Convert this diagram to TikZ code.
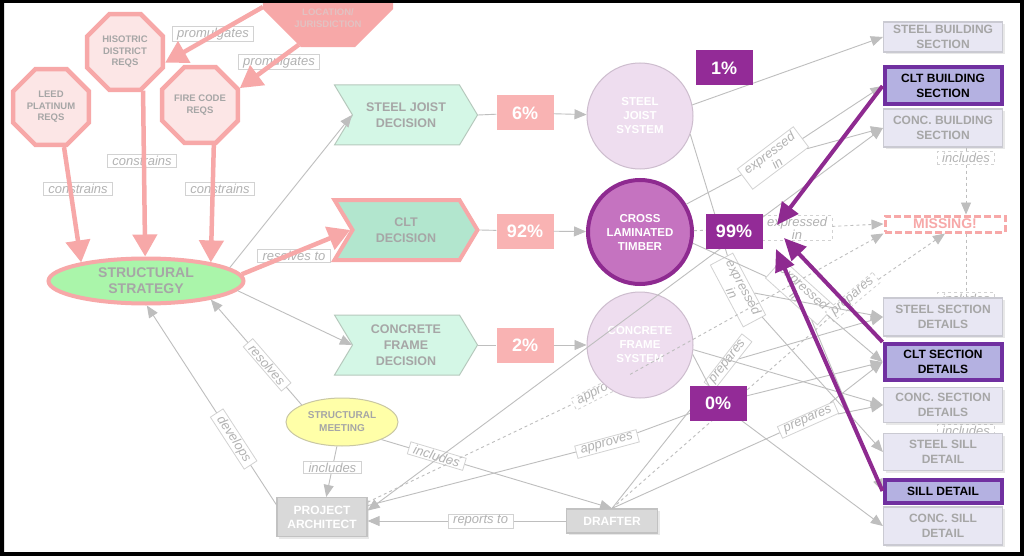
\documentclass[tikz,border=0pt]{standalone}
\usepackage{fontspec}
\setmainfont{Liberation Sans}
\usetikzlibrary{arrows.meta,shapes.geometric,shapes.symbols,shadows}

\definecolor{reqpink}{HTML}{F7A8A8}
\definecolor{reqfill}{HTML}{FCE6E6}
\definecolor{loctext}{HTML}{E2C2C2}
\definecolor{txtgray}{HTML}{A6A6A6}
\definecolor{lbltext}{HTML}{B2B2B2}
\definecolor{lblline}{HTML}{D2D2D2}
\definecolor{linegray}{HTML}{BEBEBE}
\definecolor{stratgreen}{HTML}{AAF5AA}
\definecolor{decfill}{HTML}{D4F7E6}
\definecolor{decline}{HTML}{B6C9BD}
\definecolor{cltfill}{HTML}{B2E6CE}
\definecolor{pctpink}{HTML}{F9B3B3}
\definecolor{sysfill}{HTML}{EEDDEF}
\definecolor{sysline}{HTML}{CDBDCE}
\definecolor{cltpurple}{HTML}{C573C0}
\definecolor{deeppurple}{HTML}{8E2A90}
\definecolor{pctpurple}{HTML}{932B97}
\definecolor{docfill}{HTML}{E8E7F3}
\definecolor{docline}{HTML}{CACAD2}
\definecolor{selfill}{HTML}{B4B1E1}
\definecolor{selline}{HTML}{7030A0}
\definecolor{rolefill}{HTML}{D9D9D9}
\definecolor{roleline}{HTML}{C2C2C2}
\definecolor{meetfill}{HTML}{FFFFA8}
\definecolor{meetline}{HTML}{C9C7A3}

\tikzset{
  req/.style={regular polygon, regular polygon sides=8, draw=reqpink, line width=4.5pt,
    fill=reqfill, minimum size=82pt, inner sep=0pt, align=center, text=txtgray,
    font=\bfseries\fontsize{9.5}{11.5}\selectfont},
  link/.style={draw=lblline, fill=white, line width=0.8pt, inner xsep=5pt, inner ysep=1.5pt,
    align=center, text=lbltext, font=\itshape\fontsize{13}{13}\selectfont},
  linkdash/.style={link, dashed},
  redarrow/.style={draw=reqpink, line width=4.5pt, -{Triangle[length=22pt,width=24pt]}},
  gline/.style={draw=linegray, line width=0.9pt},
  garrow/.style={gline, -{Triangle[length=12pt,width=10pt]}},
  purplearrow/.style={draw=deeppurple, line width=4pt, -{Triangle[length=22pt,width=20pt]}},
  strategy/.style={ellipse, draw=reqpink, line width=4pt, fill=stratgreen, minimum width=195pt,
    minimum height=45pt, inner sep=0pt, align=center, text=txtgray,
    font=\bfseries\fontsize{14}{16}\selectfont},
  decision/.style={signal, signal to=east, signal from=west, signal pointer angle=118,
    draw=decline, line width=1pt, fill=decfill, minimum width=143pt, minimum height=60pt,
    inner sep=0pt, align=center, text=txtgray, font=\bfseries\fontsize{12.5}{16}\selectfont},
  pct/.style={fill=pctpink, minimum width=57pt, minimum height=35pt, inner sep=0pt,
    text=white, font=\bfseries\fontsize{18}{18}\selectfont},
  pctsel/.style={pct, fill=pctpurple},
  system/.style={circle, draw=sysline, line width=1pt, fill=sysfill, minimum size=106pt,
    inner sep=0pt, align=center, text=white, font=\bfseries\fontsize{11.5}{14}\selectfont},
  doc/.style={rectangle, draw=docline, line width=1.2pt, fill=docfill, minimum width=119pt,
    inner sep=0pt, align=center, text=txtgray, font=\bfseries\fontsize{12}{14.5}\selectfont,
    drop shadow={opacity=0.18, shadow xshift=2pt, shadow yshift=-2pt}},
  docsel/.style={doc, draw=selline, line width=4pt, fill=selfill, text=black, minimum width=117pt},
  role/.style={rectangle, draw=roleline, line width=1.2pt, fill=rolefill, text=white,
    inner sep=0pt, align=center, font=\bfseries\fontsize{12}{14}\selectfont,
    drop shadow={opacity=0.18, shadow xshift=2pt, shadow yshift=-2pt}},
  meeting/.style={ellipse, draw=meetline, line width=1pt, fill=meetfill, minimum width=112pt,
    minimum height=48pt, inner sep=0pt, align=center, text=txtgray,
    font=\bfseries\fontsize{10}{13}\selectfont},
  missing/.style={draw=reqpink, line width=3pt, dash pattern=on 7pt off 3pt, fill=white,
    minimum width=120pt, minimum height=16pt, inner sep=0pt, text=reqpink,
    font=\bfseries\fontsize{14}{14}\selectfont}
}

\begin{document}
\begin{tikzpicture}[x=1pt,y=-1pt]
\fill[black] (0,0) rectangle (1024,556);
\fill[white] (4,3) rectangle (1020,552);
\useasboundingbox (0,0) rectangle (1024,556);

% requirements
\node[req, fill=reqpink, minimum size=136pt] (loc) at (328,-18) {};
\node[text=loctext, align=center, font=\bfseries\fontsize{9.5}{12.5}\selectfont] (loctxt) at (328,18) {LOCATION/\\JURISDICTION};
\node[req] (hist) at (125,52) {HISOTRIC\\DISTRICT\\REQS};
\node[req] (leed) at (51,107) {LEED\\PLATINUM\\REQS};
\node[req] (fire) at (200,105) {FIRE CODE\\REQS};
\node[link] (prom1) at (213,34) {promulgates};
\node[link] (prom2) at (279,62) {promulgates};
\node[link] (con1) at (78,189) {constrains};
\node[link] (con2) at (142,161) {constrains};
\node[link] (con3) at (220,189) {constrains};
\node[link] (res2) at (294,256) {resolves to};

\node[strategy] (ss) at (146,281) {STRUCTURAL\\STRATEGY};

% decisions
\node[decision] (sjd) at (406,115) {STEEL JOIST\\DECISION};
\node[decision, fill=cltfill, draw=reqpink, line width=4pt] (cltd) at (406,230) {CLT\\DECISION};
\node[decision] (cfd) at (406,345) {CONCRETE\\FRAME\\DECISION};
\node[pct] (p6) at (525,113) {6\%};
\node[pct] (p92) at (525,231) {92\%};
\node[pct] (p2) at (525,345) {2\%};

% systems
\node[linkdash, rotate=27] (app2) at (602,390) {approves};
\node[system] (sjs) at (640,116) {STEEL\\JOIST\\SYSTEM};
\node[system, fill=cltpurple, draw=deeppurple, line width=4pt, minimum size=104pt] (cltc) at (640,232) {CROSS\\LAMINATED\\TIMBER};
\node[system] (cfs) at (640,345) {CONCRETE\\FRAME\\SYSTEM};

% documents
\node[linkdash] (inc4) at (966,299) {includes};
\node[linkdash] (inc5) at (966,431) {includes};
\node[doc, minimum height=30pt] (stbs) at (943,37) {STEEL BUILDING\\SECTION};
\node[docsel, minimum height=37pt] (cltbs) at (943,86) {CLT BUILDING\\SECTION};
\node[doc, minimum height=38pt] (cbs) at (943,128) {CONC. BUILDING\\SECTION};
\node[missing] (miss) at (945,224) {MISSING!};
\node[doc, minimum height=38pt] (ssd) at (943,317) {STEEL SECTION\\DETAILS};
\node[docsel, minimum height=36pt] (cltsd) at (943,362) {CLT SECTION\\DETAILS};
\node[doc, minimum height=35pt] (csd) at (943,405) {CONC. SECTION\\DETAILS};
\node[doc, minimum height=37pt] (stsl) at (943,452) {STEEL SILL\\DETAIL};
\node[docsel, minimum height=23pt] (sill) at (943,491) {SILL DETAIL};
\node[doc, minimum height=38pt] (csl) at (943,526) {CONC. SILL\\DETAIL};

% people
\node[meeting] (sm) at (342,422) {STRUCTURAL\\MEETING};
\node[role, minimum width=90pt, minimum height=39pt] (pa) at (322,517) {PROJECT\\ARCHITECT};
\node[role, minimum width=91pt, minimum height=24pt] (dr) at (612,521) {DRAFTER};

% grey links
\draw[garrow] (ss.9) -- (sjd.west);
\draw[garrow] (ss.-6) -- (cfd.west);
\draw[gline] (sjd.east) -- (p6);
\draw[gline] (cltd.east) -- (p92);
\draw[gline] (cfd.east) -- (p2);
\draw[garrow] (p6) -- (sjs);
\draw[garrow] (p92) -- (cltc);
\draw[garrow] (p2) -- (cfs);
\draw[garrow] (sm.157) -- node[link, sloped, pos=0.38] (res) {resolves} (ss.-16);
\draw[garrow] (pa.165) -- node[link, sloped, pos=0.33] (dev) {develops} (ss.-88);
\draw[garrow] (sm) -- node[link, pos=0.42] (inc1) {includes} (pa);
\draw[garrow] (sm.-24) -- node[link, sloped, pos=0.24] (inc2) {includes} (dr.north);
\draw[garrow] (dr.west) -- node[link, pos=0.43] (rep) {reports to} (dr.west -| pa.east);

% expressed in / prepares / approves
\coordinate (hub0) at (718,403);
\node[link, rotate=37] (exp1) at (773,158) {expressed\\in};
\node[linkdash] (exp2) at (797,228) {expressed\\in};
\node[link, rotate=-62] (exp3) at (738,290) {expressed\\in};
\node[link, rotate=-42] (exp4) at (800,292) {expressed\\in};
\node[link, rotate=52] (prep1) at (728,362) {prepares};
\node[link, rotate=24] (prep2) at (808,420) {prepares};
\node[linkdash, rotate=40] (prep3) at (853,297) {prepares};
\node[link, rotate=15] (app1) at (607,444) {approves};
\draw[garrow] (sjs.12) -- (stbs.west);
\draw[gline] (sjs.-20) -- (exp3);
\draw[garrow] (exp3) -- (ssd.west);
\draw[garrow] (exp3) -- (stsl.west);
\draw[gline] (cltc.31) -- (exp1);
\draw[garrow] (exp1) -- (cltbs.west);
\draw[garrow] (exp1) -- (cbs.west);
\draw[gline, dashed] (cltc) -- (exp2);
\draw[garrow, dashed] (exp2) -- (miss.west);
\draw[gline] (cltc.-12) -- (exp4);
\draw[garrow] (exp4) -- (cltsd.west);
\draw[garrow] (exp4) -- (sill.west);
\draw[garrow] (cfs.-5) -- (csd.west);
\draw[gline] (cfs.-10) -- (hub0);
\draw[garrow] (hub0) -- (csl.west);
\draw[garrow] (hub0) -- (cltsd.west);
\draw[gline, {Triangle[length=12pt,width=10pt]}-{Triangle[length=12pt,width=10pt]}] (pa.8) -- (cbs.west);
\draw[gline] (pa.14) -- (app1);
\draw[gline] (app1) -- (hub0);
\draw[gline, dashed] (pa.18) -- (app2);
\draw[garrow, dashed] (app2) -- (miss.south west);
\draw[gline] (dr.north) -- (prep1);
\draw[garrow] (prep1) -- (ssd.west);
\draw[gline] (dr.north) -- (prep2);
\draw[garrow] (prep2) -- (cltsd.west);
\draw[garrow] (prep2) -- (csd.west);
\draw[gline, dashed] (dr.north) -- (prep3);
\draw[garrow, dashed] (prep3) -- (miss.south);

% includes between documents
\node[linkdash] (inc3) at (966,158) {includes};
\draw[gline, dashed] (inc3 |- cbs.south) -- (inc3);
\draw[garrow, dashed] (inc3) -- (inc3 |- miss.north);
\draw[gline, dashed] (inc4 |- miss.south) -- (inc4 |- ssd.north);

% requirement arrows
\draw[redarrow] (loc.201) -- (hist.-15);
\draw[redarrow] (loc.245) -- (fire.23);
\draw[redarrow] (leed.-72) -- (ss.164);
\draw[redarrow] (hist.-65) -- (ss.92);
\draw[redarrow] (fire.-71) -- (ss.16);
\draw[redarrow] (ss.4) -- (cltd.west);

% share boxes
\node[pctsel] (p1) at (724,68) {1\%};
\node[pctsel] (p99) at (734,231) {99\%};
\node[pctsel] (p0) at (718,403) {0\%};
\coordinate (aim1) at (777,225);
\coordinate (aim2) at (784,238);
\coordinate (aim3) at (776,249);
\draw[purplearrow] (cltbs.west) -- (aim1);
\draw[purplearrow] (cltsd.north west) -- (aim2);
\draw[purplearrow] (sill.west) -- (aim3);

\fill[black, even odd rule] (0,0) rectangle (1024,556) (4,3) rectangle (1020,552);
\end{tikzpicture}
\end{document}
